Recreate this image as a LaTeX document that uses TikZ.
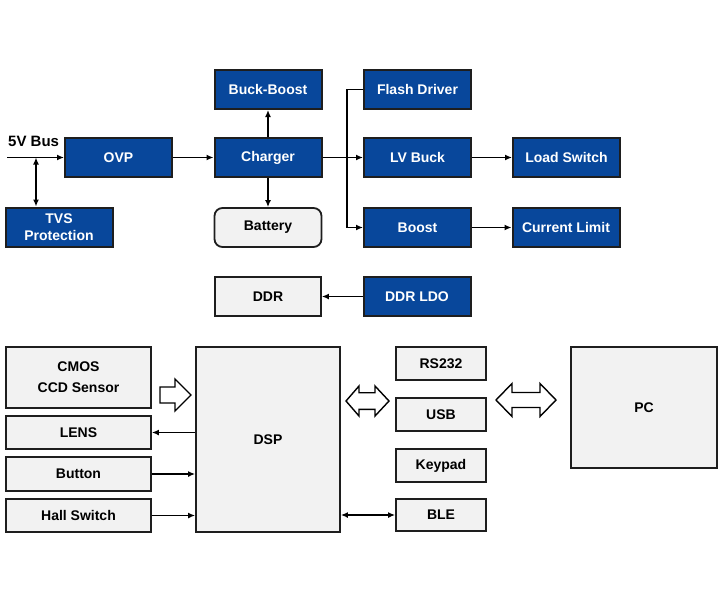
\documentclass[tikz,border=0pt]{standalone}
\usepackage{fontspec}
\setmainfont{Liberation Sans}
\usetikzlibrary{arrows.meta,positioning,calc}
\definecolor{chipBlue}{HTML}{08479B}
\definecolor{chipGray}{HTML}{F2F2F2}
\definecolor{chipLine}{HTML}{1E1E1E}

\begin{document}
\begin{tikzpicture}[x=1pt,y=-1pt,>={Latex[length=7pt,width=6pt]},
  blk/.style={draw=chipLine,fill=chipBlue,line width=2pt,text=white,font=\fontsize{14}{17}\selectfont\bfseries,minimum width=107pt,minimum height=39pt,inner sep=0pt,align=center},
  gbox/.style={draw=chipLine,fill=chipGray,line width=1.8pt,text=black,font=\fontsize{14}{21}\selectfont\bfseries,inner sep=0pt,align=center},
  wire/.style={draw=black,line width=1.6pt},
  hollow/.style={draw=black,fill=white,line width=1.4pt,line join=miter}]
\useasboundingbox (0,0) rectangle (720,600);

% power path
\node[blk] (ovp) at (118.5,157.5) {OVP};
\node[blk] (tvs) at (59,227) {TVS\\Protection};
\node[blk] (buckboost) at (268,89.5) {Buck-Boost};
\node[blk] (charger) at (268,157.5) {Charger};
\node[gbox,rounded corners=8pt,minimum width=107pt,minimum height=39pt] (battery) at (268,227.5) {Battery};
\node[blk] (flash) at (417.5,89.5) {Flash Driver};
\node[blk] (lvbuck) at (417.5,157.5) {LV Buck};
\node[blk] (boost) at (417.5,227.5) {Boost};
\node[blk] (load) at (566.5,157.5) {Load Switch};
\node[blk] (climit) at (566,227.5) {Current Limit};
\node[gbox,minimum width=106pt,minimum height=39pt] (ddr) at (268,296.5) {DDR};
\node[blk] (ddrldo) at (417,296.5) {DDR LDO};

\coordinate (bus) at (7,157.5);
\coordinate (tap) at (36,157.5);
\coordinate (split) at (347,157.5);
\node[font=\fontsize{15}{17}\selectfont\bfseries,anchor=west,inner sep=0pt] (buslabel) at (8,141) {5V Bus};

\draw[wire,->] (bus) -- (ovp);
\draw[wire,<->] (tap) -- (tap |- tvs.north);
\draw[wire,->] (ovp) -- (charger);
\draw[wire,->] (charger) -- (buckboost);
\draw[wire,->] (charger) -- (battery);
\draw[wire,->] (charger) -- (lvbuck);
\draw[wire] (split) |- (flash.west);
\draw[wire,->] (split) |- (boost.west);
\draw[wire,->] (lvbuck) -- (load);
\draw[wire,->] (boost) -- (climit);
\draw[wire,->] (ddrldo) -- (ddr);

% camera side
\node[gbox,minimum width=145pt,minimum height=61pt] (cmos) at (78.5,377.5) {CMOS\\CCD Sensor};
\node[gbox,minimum width=145pt,minimum height=33pt] (lens) at (78.5,432.5) {LENS};
\node[gbox,minimum width=145pt,minimum height=34pt] (button) at (78.5,474) {Button};
\node[gbox,minimum width=145pt,minimum height=33pt] (hall) at (78.5,515.5) {Hall Switch};
\node[gbox,minimum width=144pt,minimum height=185pt] (dsp) at (268,439.5) {DSP};
\node[gbox,minimum width=90pt,minimum height=33pt] (rs232) at (441,363.5) {RS232};
\node[gbox,minimum width=90pt,minimum height=33pt] (usb) at (441,414.5) {USB};
\node[gbox,minimum width=90pt,minimum height=33pt] (keypad) at (441,465.5) {Keypad};
\node[gbox,minimum width=90pt,minimum height=32pt] (ble) at (441,515) {BLE};
\node[gbox,minimum width=146pt,minimum height=121pt] (pc) at (644,407.5) {PC};

\draw[wire,->] (dsp.west |- lens) -- (lens.east);
\draw[wire,->] (button.east) -- (button.east -| dsp.west);
\draw[wire,->] (hall.east) -- (hall.east -| dsp.west);
\draw[wire,<->] (ble.west) -- (ble.west -| dsp.east);

% hollow arrows
\coordinate (camIn) at (160,395);
\coordinate (busL) at (346,401);
\coordinate (busR) at (496,400);
\draw[hollow] (camIn) ++(0,-8) -- ++(15,0) -- ++(0,-8) -- ++(16,16) -- ++(-16,16) -- ++(0,-8) -- ++(-15,0) -- cycle;
\draw[hollow] (busL) -- ++(13,-15) -- ++(0,6.7) -- ++(16,0) -- ++(0,-6.7) -- ++(14,15) -- ++(-14,15) -- ++(0,-6.7) -- ++(-16,0) -- ++(0,6.7) -- cycle;
\draw[hollow] (busR) -- ++(16,-16.5) -- ++(0,9) -- ++(28,0) -- ++(0,-9) -- ++(16,16.5) -- ++(-16,16.5) -- ++(0,-9) -- ++(-28,0) -- ++(0,9) -- cycle;
\end{tikzpicture}
\end{document}
